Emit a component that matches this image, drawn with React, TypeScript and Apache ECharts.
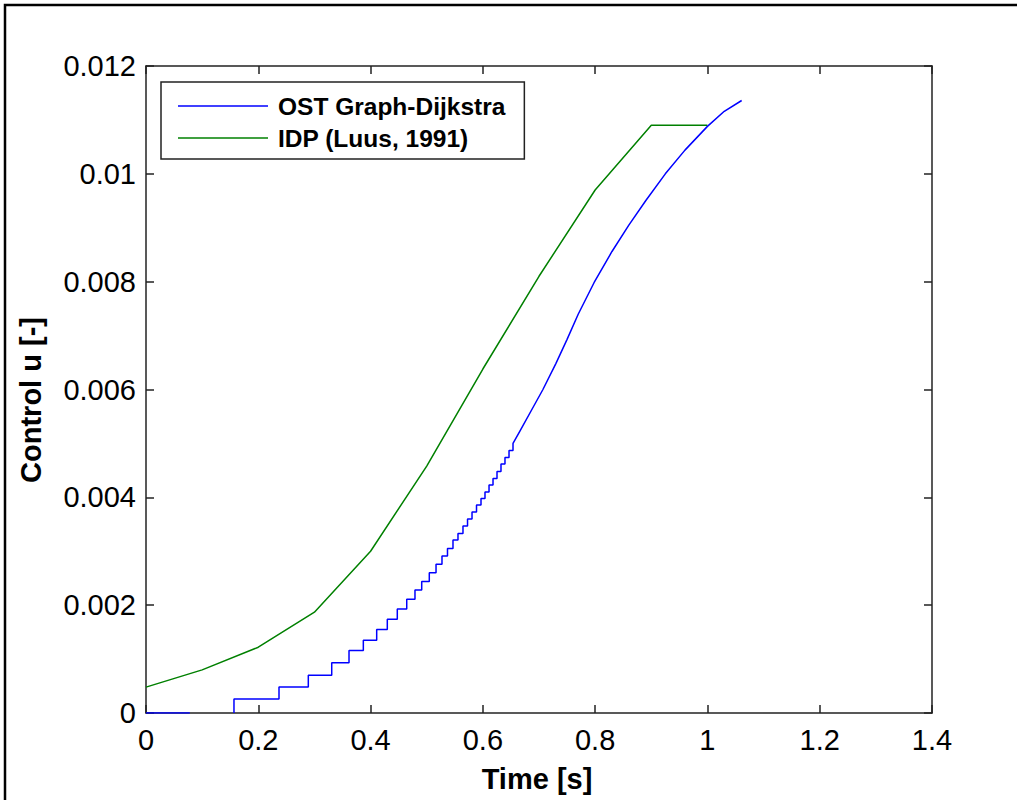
import React, { useEffect, useRef } from "react";
import * as echarts from "echarts";

// Tick values
const xTicks = [0, 0.2, 0.4, 0.6, 0.8, 1, 1.2, 1.4];
const yTicks = [0, 0.002, 0.004, 0.006, 0.008, 0.01, 0.012];

// IDP (Luus, 1991) — piecewise linear control
const idpTime = [0, 0.1, 0.2, 0.3, 0.4, 0.5, 0.6, 0.7, 0.8, 0.9, 1.0];
const idpU = [0.00048, 0.0008, 0.00122, 0.00187, 0.0030, 0.00458, 0.00638, 0.0081, 0.0097, 0.0109, 0.0109];

// OST Graph-Dijkstra — initial zero segment
const ostZeroTime = [0, 0.078];
// staircase part: time where a new level starts, and that level
const ostStepTime = [
  0.1567, 0.2369, 0.2891, 0.3308, 0.3616, 0.3871, 0.4109, 0.4298, 0.4476, 0.4644,
  0.4791, 0.4911, 0.5046, 0.5166, 0.5272, 0.537, 0.5468, 0.5557, 0.5646, 0.5727,
  0.5807, 0.5887, 0.5967, 0.6038, 0.611, 0.6181, 0.6252, 0.6323, 0.6394, 0.6466, 0.6537,
];
const ostStepU = [
  0.00026, 0.00048, 0.0007, 0.00093, 0.00116, 0.00135, 0.00155, 0.00174, 0.00193, 0.00211,
  0.00228, 0.00244, 0.0026, 0.00276, 0.00291, 0.00305, 0.00321, 0.00333, 0.00347, 0.0036,
  0.00373, 0.00386, 0.00398, 0.0041, 0.00423, 0.00435, 0.00448, 0.00462, 0.00474, 0.00487, 0.005,
];
// smooth upper part
const ostSmoothTime = [0.666, 0.69, 0.707, 0.73, 0.75, 0.77, 0.798, 0.83, 0.86, 0.89, 0.925, 0.96, 1.0, 1.03, 1.061];
const ostSmoothU = [0.00523, 0.00568, 0.006, 0.00648, 0.00693, 0.0074, 0.00798, 0.00856, 0.00905, 0.0095, 0.01, 0.01044, 0.01088, 0.01116, 0.01136];

const seriesNames = ["OST Graph-Dijkstra", "IDP (Luus, 1991)"];

export default function App() {
  const ref = useRef<HTMLDivElement>(null);

  useEffect(() => {
    if (!ref.current) return;
    const chart = echarts.init(ref.current, null, { renderer: "svg" });

    const ostData: any[] = ostZeroTime.map((t) => [t, 0]);
    ostData.push([0.12, "-"]);
    let prev = 0;
    ostStepTime.forEach((t, i) => {
      ostData.push([t, prev]);
      ostData.push([t, ostStepU[i]]);
      prev = ostStepU[i];
    });
    ostSmoothTime.forEach((t, i) => ostData.push([t, ostSmoothU[i]]));

    const idpData = idpTime.map((t, i) => [t, idpU[i]]);

    const font = "'Liberation Sans', Arial, sans-serif";
    const axisColor = "#222";
    const xMin = xTicks[0];
    const xMax = xTicks[xTicks.length - 1];
    const xInt = xTicks[1] - xTicks[0];
    const yMin = yTicks[0];
    const yMax = yTicks[yTicks.length - 1];
    const yInt = yTicks[1] - yTicks[0];

    const baseX = {
      type: "value",
      min: xMin,
      max: xMax,
      interval: xInt,
      splitLine: { show: false },
      axisLine: { show: true, onZero: false, lineStyle: { color: axisColor, width: 1.5 } },
      axisTick: { show: true, inside: true, length: 8, lineStyle: { color: axisColor, width: 1.5 } },
    };
    const baseY = {
      type: "value",
      min: yMin,
      max: yMax,
      interval: yInt,
      splitLine: { show: false },
      axisLine: { show: true, onZero: false, lineStyle: { color: axisColor, width: 1.5 } },
      axisTick: { show: true, inside: true, length: 8, lineStyle: { color: axisColor, width: 1.5 } },
    };

    chart.setOption({
      animation: false,
      backgroundColor: "#fff",
      grid: { left: 146, top: 66, right: 85, bottom: 87, containLabel: false },
      xAxis: [
        {
          ...baseX,
          position: "bottom",
          axisLabel: { show: true, color: "#000", fontSize: 29, fontFamily: font, margin: 12 },
        },
        { ...baseX, position: "top", axisLabel: { show: false } },
      ],
      yAxis: [
        {
          ...baseY,
          position: "left",
          axisLabel: { show: true, color: "#000", fontSize: 29, fontFamily: font, margin: 10 },
        },
        { ...baseY, position: "right", axisLabel: { show: false } },
      ],
      legend: {
        orient: "vertical",
        left: 161,
        top: 82,
        data: seriesNames.map((n) => ({ name: n, icon: "rect" })),
        itemWidth: 90,
        itemHeight: 1.5,
        itemGap: 2,
        padding: [9, 19, 6, 17],
        borderColor: "#222",
        borderWidth: 1.5,
        backgroundColor: "#fff",
        textStyle: {
          color: "#000",
          fontSize: 24.5,
          fontWeight: "bold",
          fontFamily: font,
          lineHeight: 30,
          padding: [0, 0, 0, 5],
        },
      },
      series: [
        {
          name: seriesNames[0],
          type: "line",
          data: ostData,
          symbol: "none",
          connectNulls: false,
          lineStyle: { color: "#0000ff", width: 1.5 },
          itemStyle: { color: "#0000ff" },
          z: 3,
        },
        {
          name: seriesNames[1],
          type: "line",
          data: idpData,
          symbol: "none",
          lineStyle: { color: "#008000", width: 1.5 },
          itemStyle: { color: "#008000" },
          z: 2,
        },
      ],
      graphic: [
        {
          type: "rect",
          shape: { x: 5, y: 5, width: 1200, height: 1000 },
          style: { fill: "none", stroke: "#000", lineWidth: 2.5 },
          silent: true,
          z: -10,
        },
        {
          type: "text",
          x: 537,
          y: 779,
          style: {
            text: "Time [s]",
            fill: "#000",
            font: `bold 29px ${font}`,
            align: "center",
            verticalAlign: "middle",
          },
        },
        {
          type: "text",
          x: 31,
          y: 400,
          rotation: Math.PI / 2,
          style: {
            text: "Control u [-]",
            fill: "#000",
            font: `bold 29px ${font}`,
            align: "center",
            verticalAlign: "middle",
          },
        },
      ],
    });

    return () => chart.dispose();
  }, []);

  return (
    <div
      ref={ref}
      style={{ position: "fixed", left: 0, top: 0, width: 1017, height: 800, background: "#fff" }}
    />
  );
}
